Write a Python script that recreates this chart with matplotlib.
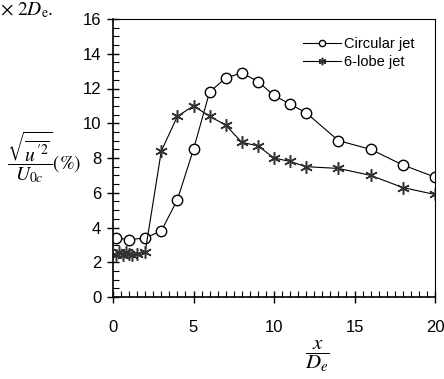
import matplotlib
matplotlib.use('Agg')
import matplotlib.pyplot as plt
from matplotlib.ticker import MultipleLocator

plt.rcParams['font.family'] = ['Liberation Sans', 'DejaVu Sans']
plt.rcParams['mathtext.fontset'] = 'stix'

# === data ===
x_circ = [0.2, 1, 2, 3, 4, 5, 6, 7, 8, 9, 10, 11, 12, 14, 16, 18, 20]
y_circ = [3.4, 3.3, 3.4, 3.8, 5.6, 8.5, 11.8, 12.6, 12.9, 12.4, 11.6, 11.1, 10.6, 9.0, 8.5, 7.6, 6.9]

x_lobe = [0.2, 0.4, 0.6, 0.8, 1.0, 1.2, 1.5, 2, 3, 4, 5, 6, 7, 8, 9, 10, 11, 12, 14, 16, 18, 20]
y_lobe = [2.4, 2.6, 2.4, 2.6, 2.5, 2.4, 2.5, 2.6, 8.4, 10.4, 11.0, 10.4, 9.9, 8.9, 8.7, 8.0, 7.8, 7.5, 7.4, 7.0, 6.3, 5.9]

fig = plt.figure(figsize=(4.44, 3.79), dpi=100)
ax = fig.add_axes([113 / 444, 1 - 297 / 379, 322 / 444, 278 / 379])

ax.plot(x_circ, y_circ, color='black', lw=0.8, marker='o', ms=7.5,
        mfc='white', mec='black', mew=1.0, label='Circular jet')
ax.plot(x_lobe, y_lobe, color='black', lw=0.8, marker=(6, 2, 0), ms=9,
        mec='#333333', mew=1.1, label='6-lobe jet')

ax.set_xlim(0, 20)
ax.set_ylim(0, 16)
ax.xaxis.set_major_locator(MultipleLocator(5))
ax.xaxis.set_minor_locator(MultipleLocator(0.5))
ax.yaxis.set_major_locator(MultipleLocator(2))
ax.yaxis.set_minor_locator(MultipleLocator(0.5))

ax.tick_params(which='major', direction='inout', length=9, width=1.0, labelsize=12)
ax.tick_params(which='minor', direction='in', length=4, width=0.8)
ax.tick_params(axis='x', which='major', pad=12)
ax.tick_params(axis='y', which='major', pad=4)
ax.tick_params(top=False, right=False, which='both')

for s in ['top', 'right']:
    ax.spines[s].set_linewidth(0.8)
for s in ['left', 'bottom']:
    ax.spines[s].set_linewidth(1.2)

leg = ax.legend(loc='upper right', frameon=False, fontsize=10.5, handlelength=2.6,
                handletextpad=0.2, borderaxespad=0.0, labelspacing=0.25,
                markerscale=0.6, bbox_to_anchor=(0.955, 0.955))

# labels (fractions) in serif math
fig.text(44 / 444, 1 - 157 / 379, r'$\dfrac{\sqrt{\overline{u^{\prime 2}}}}{U_{0c}}$(%)',
         fontsize=14, ha='center', va='center', family='STIXGeneral')
fig.text(317 / 444, 1 - 356 / 379, r'$\dfrac{x}{D_e}$', fontsize=15,
         ha='center', va='center')

# leftover text from the page above the chart
fig.text(0.0, 1.0, r'$\times\ 2D_{\rm e}$.', fontsize=14,
         ha='left', va='top', family='STIXGeneral')

fig.savefig('out.png', dpi=100)
